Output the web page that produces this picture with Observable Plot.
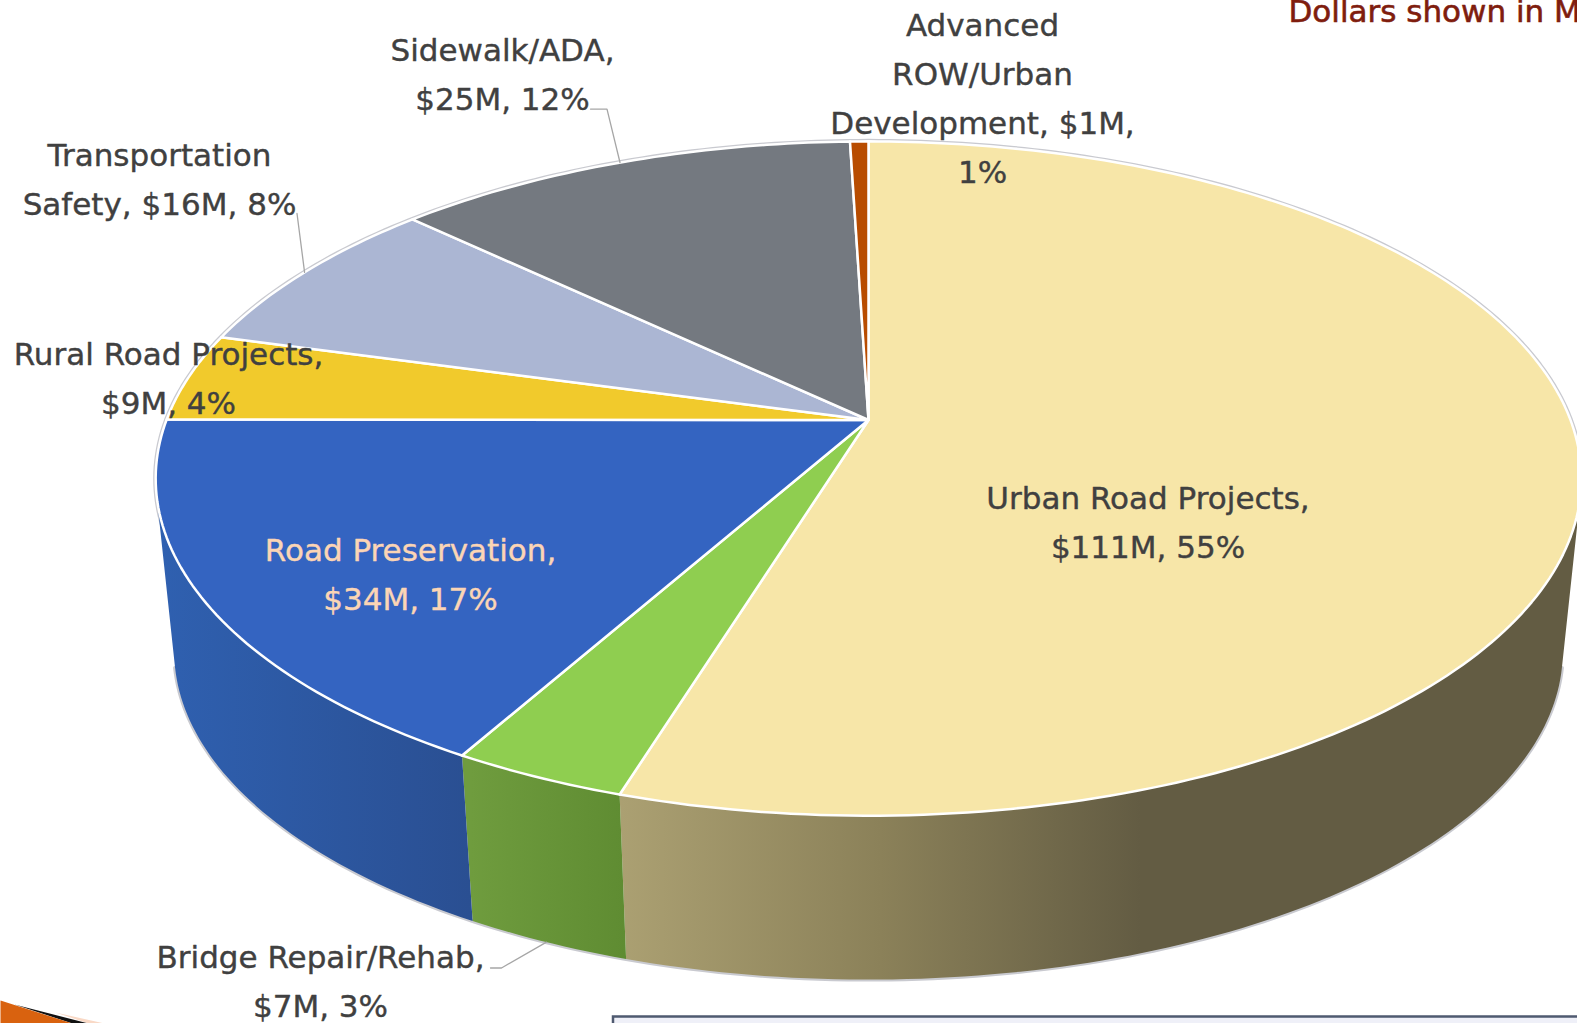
<!DOCTYPE html>
<html>
<head>
<meta charset="utf-8">
<style>html,body{margin:0;padding:0;background:#fff;overflow:hidden}svg{display:block}</style>
<script src="https://cdn.jsdelivr.net/npm/d3@7"></script>
<script src="https://cdn.jsdelivr.net/npm/@observablehq/plot@0.6"></script>
</head>
<body>
<div id="chart"></div>
<script>
const categories = ["Urban Road Projects","Bridge Repair/Rehab","Road Preservation","Rural Road Projects","Transportation Safety","Sidewalk/ADA","Advanced ROW/Urban Development"];
const valuesM = [111.2,6.9,34.2,8.6,15.8,25.3,1];
const percents = [55,3,17,4,8,12,1];
const labelTexts = ["Urban Road Projects,\n$111M, 55%","Bridge Repair/Rehab,\n$7M, 3%","Road Preservation,\n$34M, 17%","Rural Road Projects,\n$9M, 4%","Transportation\nSafety, $16M, 8%","Sidewalk/ADA,\n$25M, 12%","Advanced\nROW/Urban\nDevelopment, $1M,\n1%"];
const note = "Dollars shown in Millions";

// styles and layout (separate from the values)
const faceColors = ["#f7e6a8","#8fce50","#3464c1","#f1ca2c","#abb6d3","#747980","#b84c00"];
const labelColors = ["#404040","#404040","#fbd5b5","#404040","#404040","#404040","#404040"];
const labelX = [1147.5,320,410,168,159,502,982];
const labelY = [517,976,569.5,373,174,69,93];
const W = 1577, H = 1023;
const apex = {x:868,y:419.5}, A = 702, B = 327, k = 0.1736;
const wallScale = 0.974, vanishY = 7120;

const toRad = d3.scaleLinear().domain([0,d3.sum(valuesM)]).range([0,2*Math.PI]);
const rimTop = t => { const u=Math.sin(t), v=Math.cos(t), d=1+k*v; return {x:apex.x+A*u/d, y:apex.y-B*v/d}; };
const rimLow = t => { const p=rimTop(t); return {x:apex.x+(p.x-apex.x)*wallScale, y:vanishY+(p.y-vanishY)*wallScale}; };
const arc = (a,b,f) => { const n=Math.max(2,Math.ceil(Math.abs(b-a)/(Math.PI/180))); return d3.range(n+1).map(i=>f(a+(b-a)*i/n)); };

const cum = d3.cumsum(valuesM);
const slices = categories.map((c,i)=>({name:c,i,a:toRad(i?cum[i-1]:0),b:toRad(cum[i]),mid:toRad((i?cum[i-1]:0)+valuesM[i]/2)}));

// silhouette limits of the visible side wall: tangents from the vanishing point
const fine = d3.range(0,2*Math.PI,0.001);
const slope = t => { const p=rimTop(t); return (p.x-apex.x)/(vanishY-p.y); };
const wallStart = d3.greatest(fine,slope);
const wallEnd = d3.least(fine,slope);

const facePts = slices.flatMap(s=>[apex,...arc(s.a,s.b,rimTop)].map(p=>({...p,z:s.name,fill:faceColors[s.i]})));
const fullRim = arc(0,2*Math.PI,rimTop);
const wallDefs = [
  {i:0,id:"wallUrban"},{i:1,id:"wallBridge"},{i:2,id:"wallRoad"}
];
const walls = wallDefs.map(d=>{
  const s=slices[d.i], a=Math.max(s.a,wallStart), b=Math.min(s.b,wallEnd);
  return {id:d.id,pts:[...arc(a,b,rimTop),...arc(b,a,rimLow)]};
});
const seams = [slices[0].b,slices[1].b].map((t,i)=>[rimTop(t),rimLow(t)].map(p=>({...p,z:i})));
const lowerEdge = arc(wallStart,wallEnd,rimLow);
const sideEdges = [wallStart,wallEnd].map((t,i)=>[rimTop(t),rimLow(t)].map(p=>({...p,z:i})));

const labels = labelTexts.map((t,i)=>({t,x:labelX[i],y:labelY[i],c:labelColors[i]}));
const sw=rimTop(slices[5].mid), ts=rimTop(slices[4].mid), br=rimLow(slices[1].mid);
const leaders = [
  [{x:590,y:108.6},{x:606.5,y:108.6},sw],
  [{x:296.5,y:213},ts],
  [{x:490,y:967.5},{x:501,y:967.5},br]
].flatMap((l,i)=>l.map(p=>({...p,z:i})));

const cornerOrange=[{x:0,y:1000},{x:72,y:1023},{x:0,y:1023}];
const cornerBlack=[{x:14,y:1004},{x:88,y:1023},{x:72,y:1023}];
const cornerPale=[{x:55,y:1012},{x:104,y:1023},{x:88,y:1023}];

const gradients = () => {
  const ns="http://www.w3.org/2000/svg";
  const defs=document.createElementNS(ns,"defs");
  const g=(id,x1,x2,stops)=>{
    const e=document.createElementNS(ns,"linearGradient");
    e.setAttribute("id",id);e.setAttribute("gradientUnits","userSpaceOnUse");
    e.setAttribute("x1",x1);e.setAttribute("x2",x2);e.setAttribute("y1",0);e.setAttribute("y2",0);
    stops.forEach(([o,c])=>{const s=document.createElementNS(ns,"stop");s.setAttribute("offset",o);s.setAttribute("stop-color",c);e.appendChild(s);});
    defs.appendChild(e);
  };
  g("wallUrban",620,1140,[[0,"#aba072"],[0.5,"#8b8159"],[1,"#635c43"]]);
  g("wallBridge",470,625,[[0,"#6f9c3e"],[1,"#5f8c32"]]);
  g("wallRoad",160,470,[[0,"#2f60b0"],[1,"#2a4f92"]]);
  const svg=document.createElementNS(ns,"g");svg.appendChild(defs);return svg;
};

const poly=(d,o)=>Plot.line(d,{x:"x",y:"y",curve:"linear-closed",...o});
const rimGrey="#c9cad0";
const chart = Plot.plot({
  width:W,height:H,margin:0,
  x:{domain:[0,W],range:[0,W],axis:null},
  y:{domain:[0,H],range:[0,H],axis:null},
  style:{background:"#fff",fontFamily:"'DejaVu Sans',sans-serif"},
  marks:[
    gradients,
    poly(fullRim,{stroke:rimGrey,strokeWidth:5}),
    Plot.line(lowerEdge,{x:"x",y:"y",stroke:rimGrey,strokeWidth:4}),
    Plot.line(sideEdges,{x:"x",y:"y",z:"z",stroke:rimGrey,strokeWidth:4}),
    ...walls.map(w=>poly(w.pts,{fill:`url(#${w.id})`,stroke:"none"})),
    Plot.line(seams,{x:"x",y:"y",z:"z",stroke:"#fff",strokeWidth:2.5}),
    poly(facePts,{z:"z",fill:"fill",stroke:"#fff",strokeWidth:2.5,strokeLinejoin:"round"}),
    Plot.line(leaders,{x:"x",y:"y",z:"z",stroke:"#a6a6a6",strokeWidth:1.3}),
    Plot.text(labels,{x:"x",y:"y",text:"t",fill:"c",stroke:"c",strokeWidth:0.4,fontSize:31,lineHeight:1.58,textAnchor:"middle",lineAnchor:"middle"}),
    Plot.text([note],{x:()=>1288,y:()=>12,text:d=>d,fill:"#7f1d0e",stroke:"#7f1d0e",strokeWidth:0.6,fontSize:31,textAnchor:"start",lineAnchor:"middle"}),
    Plot.rect([0],{x1:()=>613,x2:()=>1590,y1:()=>1016.5,y2:()=>1040,fill:"#eff0f8",stroke:"#4f5a70",strokeWidth:2.5}),
    poly(cornerPale,{fill:"#f9d9c6"}),
    poly(cornerBlack,{fill:"#111"}),
    poly(cornerOrange,{fill:"#d9620f"})
  ]
});
document.getElementById("chart").appendChild(chart);
</script>
</body>
</html>
